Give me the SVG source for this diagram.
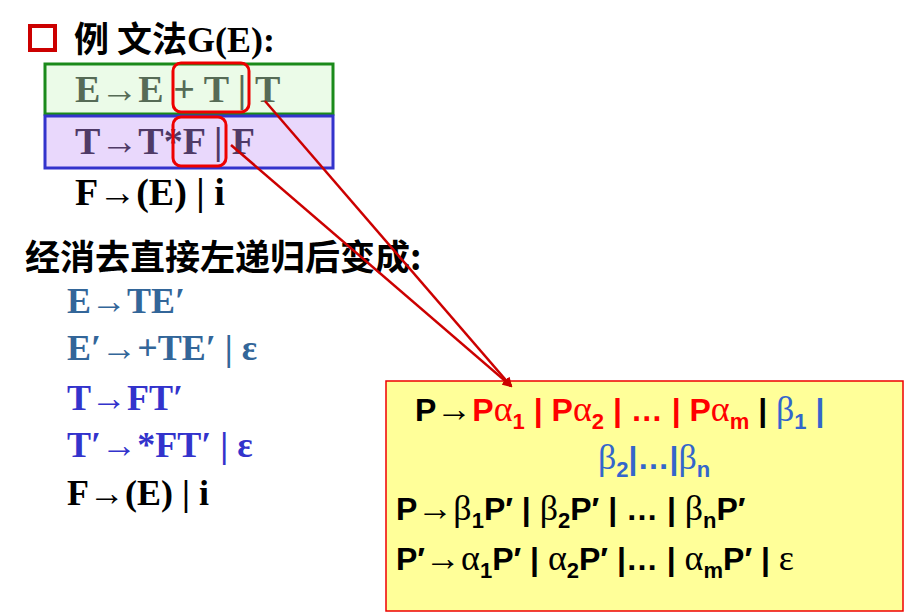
<svg xmlns="http://www.w3.org/2000/svg" width="906" height="613" viewBox="0 0 906 613">
<style>
.s{font-family:"Liberation Serif","Noto Sans CJK SC",serif;font-weight:bold;font-size:38px}
.c{font-family:"Noto Sans CJK SC","Liberation Sans",sans-serif;font-weight:bold;font-size:35px}
.p{font-family:"Liberation Sans",sans-serif;font-weight:bold;font-size:32px}
.g{font-family:"Liberation Serif",serif;font-weight:normal;font-size:36px}
.sub{font-size:22px}
.hl{fill:none;stroke:#e00;stroke-width:3}
</style>
<defs><marker id="ah" markerWidth="10" markerHeight="10" refX="8" refY="5" orient="auto" markerUnits="userSpaceOnUse"><path d="M0,0L10,5L0,10z" fill="#c00"/></marker></defs>
<rect width="906" height="613" fill="#fff"/>
<g id="title">
<rect x="30" y="26" width="25" height="24" fill="none" stroke="#c00" stroke-width="4"/>
<text x="74" y="52" class="c">例 文法<tspan class="s" style="font-size:36px">G(E):</tspan></text>
</g>
<g id="rowE">
<rect x="45" y="64" width="288" height="50" fill="#ebfbe8" stroke="#1a8a1a" stroke-width="3"/>
<text x="75" y="102" class="s" fill="#566b56">E→E + T | T</text>
<rect x="173" y="63" width="76" height="49" rx="8" class="hl"/>
</g>
<g id="rowT">
<rect x="45" y="116" width="288" height="52" fill="#e9d8fc" stroke="#3333cc" stroke-width="3"/>
<text x="75" y="154" class="s" fill="#4f3a66">T→T*F | F</text>
<rect x="173" y="117" width="53" height="49" rx="8" class="hl"/>
</g>
<g id="rowF"><text x="75" y="205" class="s">F→(E) | i</text></g>
<g id="heading"><text x="25" y="270" class="c">经消去直接左递归后变成:</text></g>
<g id="result">
<text x="67" y="313" class="s" fill="#336699" style="font-size:36px">E→TE′</text>
<text x="67" y="360" class="s" fill="#336699" style="font-size:36px">E′→+TE′ | ε</text>
<text x="67" y="410" class="s" fill="#3333cc" style="font-size:36px">T→FT′</text>
<text x="67" y="457" class="s" fill="#3333cc" style="font-size:36px">T′→*FT′ | ε</text>
<text x="67" y="505" class="s" fill="#000" style="font-size:36px">F→(E) | i</text>
</g>
<g id="formula">
<rect x="386" y="381" width="517" height="230" fill="#ffff99" stroke="#e00" stroke-width="1.5"/>
<text x="415" y="421" class="p">P<tspan class="g">→</tspan><tspan fill="#f00">P<tspan class="g">α</tspan><tspan class="sub" dy="8">1</tspan><tspan dy="-8"> | P</tspan><tspan class="g">α</tspan><tspan class="sub" dy="8">2</tspan><tspan dy="-8"> | … | P</tspan><tspan class="g">α</tspan><tspan class="sub" dy="8">m</tspan></tspan><tspan dy="-8"> | </tspan><tspan fill="#3366cc"><tspan class="g">β</tspan><tspan class="sub" dy="8">1</tspan><tspan dy="-8"> |</tspan></tspan></text>
<text x="598" y="469" class="p" fill="#3366cc"><tspan class="g">β</tspan><tspan class="sub" dy="8">2</tspan><tspan dy="-8">|…|</tspan><tspan class="g">β</tspan><tspan class="sub" dy="8">n</tspan></text>
<text x="396" y="520" class="p">P<tspan class="g">→β</tspan><tspan class="sub" dy="8">1</tspan><tspan dy="-8">P′ | </tspan><tspan class="g">β</tspan><tspan class="sub" dy="8">2</tspan><tspan dy="-8">P′ | … | </tspan><tspan class="g">β</tspan><tspan class="sub" dy="8">n</tspan><tspan dy="-8">P′</tspan></text>
<text x="396" y="570" class="p">P′<tspan class="g">→α</tspan><tspan class="sub" dy="8">1</tspan><tspan dy="-8">P′ | </tspan><tspan class="g">α</tspan><tspan class="sub" dy="8">2</tspan><tspan dy="-8">P′ |… | </tspan><tspan class="g">α</tspan><tspan class="sub" dy="8">m</tspan><tspan dy="-8">P′ | </tspan><tspan class="g">ε</tspan></text>
</g>
<g id="connectors" stroke="#c00" stroke-width="2.5" fill="none">
<line x1="265" y1="101" x2="511" y2="386" marker-end="url(#ah)"/>
<line x1="231" y1="145" x2="511" y2="386" marker-end="url(#ah)"/>
</g>
</svg>
